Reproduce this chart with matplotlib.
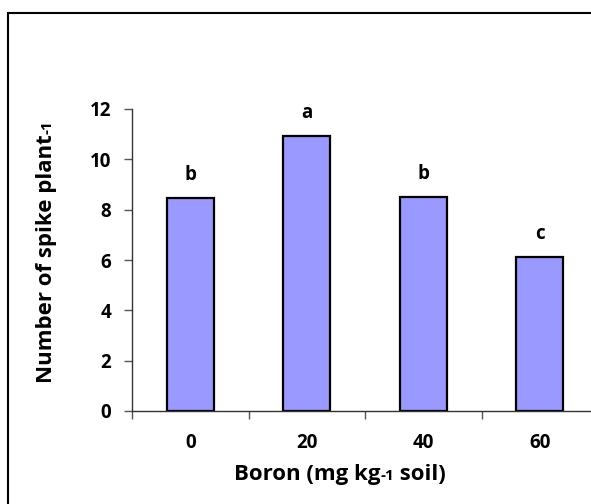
import matplotlib
matplotlib.use('Agg')
import matplotlib.pyplot as plt
from matplotlib.patches import Rectangle
import numpy as np

# data
boron = ['0', '20', '40', '60']
spikes = [8.45, 10.93, 8.52, 6.13]
letters = ['b', 'a', 'b', 'c']

plt.rcParams['font.family'] = ['Open Sans', 'DejaVu Sans']
plt.rcParams['font.weight'] = 'bold'

W, H = 591, 504
fig = plt.figure(figsize=(W / 100, H / 100), dpi=100)

# outer chart frame (runs off the right/bottom edge as in the reference)
fig.patches.append(Rectangle((8 / W, -0.1), 1.2, 1 - 13 / H + 0.1,
                             transform=fig.transFigure, fill=False,
                             edgecolor='black', linewidth=1.5))

ax = fig.add_axes([132 / W, 1 - 411 / H, (598 - 132) / W, (411 - 109) / H])
x = np.arange(len(boron))
ax.bar(x, spikes, width=0.4, color='#9999FF', edgecolor='black', linewidth=1.6)

for xi, v, lab in zip(x, spikes, letters):
    ax.annotate(lab, (xi, v), xytext=(0, 13), textcoords='offset points',
                ha='center', va='baseline', fontsize=13.5, fontweight='bold')

ax.set_xlim(-0.5, 3.5)
ax.set_ylim(0, 12)
ax.set_yticks(np.arange(0, 13, 2))
ax.set_xticks(np.arange(-0.5, 4, 1))
ax.set_xticklabels([])
ax.set_xticks(x, minor=True)
ax.set_xticklabels(boron, minor=True)
ax.tick_params(axis='x', which='minor', length=0, pad=16, labelsize=13.5)
ax.tick_params(axis='x', which='major', length=6, width=1, direction='out', color='#555555')
ax.tick_params(axis='y', length=6, width=1, direction='out', pad=9, labelsize=13.5, color='#555555')
for s in ['top', 'right']:
    ax.spines[s].set_visible(False)
for s in ['left', 'bottom']:
    ax.spines[s].set_color('#333333')
    ax.spines[s].set_linewidth(1)
for t in ax.get_xticklabels(minor=True) + ax.get_yticklabels():
    t.set_fontweight('bold')

# axis titles with the small "-1" at the baseline
fig.canvas.draw()
r = fig.canvas.get_renderer()

def chain(pieces, x0, y0, rot):
    # lay pieces end to end, return list of texts
    out = []
    cx, cy = x0, y0
    for txt, size in pieces:
        t = fig.text(cx / W, 1 - cy / H, txt, fontsize=size, fontweight='bold',
                     rotation=rot, ha='left', va='baseline',
                     rotation_mode='anchor')
        bb = t.get_window_extent(renderer=r)
        if rot == 0:
            cx += bb.width
        else:
            cy -= bb.height
        out.append(t)
    return out

xpieces = [('Boron (mg kg', 16), ('-1', 11), (' soil)', 16)]
texts = chain(xpieces, 0, 480, 0)
total = sum(t.get_window_extent(renderer=r).width for t in texts)
for t in texts:
    t.remove()
chain(xpieces, 340 - total / 2, 480, 0)

ypieces = [('Number of spike plant', 16), ('-1', 11)]
texts = chain(ypieces, 52, 0, 90)
total = sum(t.get_window_extent(renderer=r).height for t in texts)
for t in texts:
    t.remove()
chain(ypieces, 52, 252 + total / 2, 90)

fig.savefig('out.png', dpi=100)
